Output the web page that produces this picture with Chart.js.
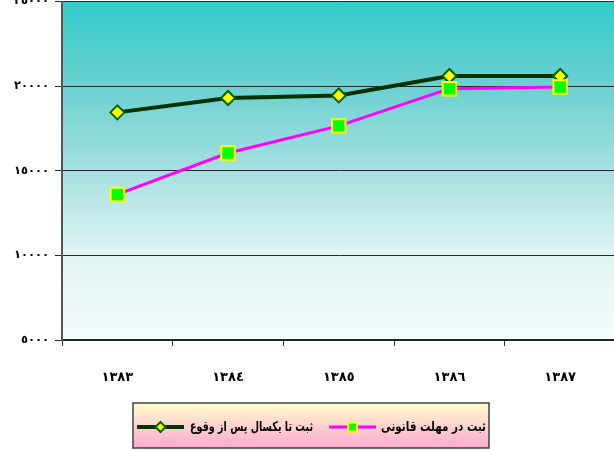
<!DOCTYPE html>
<html>
<head>
<meta charset="utf-8">
<script src="https://cdn.jsdelivr.net/npm/chart.js@4.4.1/dist/chart.umd.min.js"></script>
<style>
html,body{margin:0;padding:0;background:#fff;overflow:hidden;width:614px;height:450px;}
#wrap{position:absolute;left:0;top:-20px;width:640px;height:470px;}
</style>
</head>
<body>
<div id="wrap"><canvas id="c" width="640" height="470"></canvas></div>
<script>
// ---- data ----
const categories = ['١٣٨٣', '١٣٨٤', '١٣٨٥', '١٣٨٦', '١٣٨٧'];
const seriesNames = ['ثبت تا یکسال پس از وقوع', 'ثبت در مهلت قانونی'];
const withinYear = [18450, 19300, 19450, 20600, 20600];
const withinDeadline = [13600, 16050, 17650, 19850, 19950];
const yTickValues = [5000, 10000, 15000, 20000, 25000];
const yTickLabels = ['٥٠٠٠', '١٠٠٠٠', '١٥٠٠٠', '٢٠٠٠٠', '٢٥٠٠٠'];

const FONT = '"DejaVu Sans", sans-serif';
const OFFY = 20; // canvas is shifted up by this amount

const bgPlugin = {
  id: 'plotBg',
  beforeDraw(chart) {
    const a = chart.chartArea, ctx = chart.ctx;
    const g = ctx.createLinearGradient(0, a.top, 0, a.bottom);
    g.addColorStop(0, '#33CCCC');
    g.addColorStop(0.25, '#6CD0D0');
    g.addColorStop(0.5, '#A6E0E0');
    g.addColorStop(0.75, '#E0F4F4');
    g.addColorStop(1, '#F6FCFC');
    ctx.save();
    ctx.fillStyle = g;
    ctx.fillRect(a.left, a.top, a.right - a.left, a.bottom - a.top);
    ctx.restore();
  }
};

function drawSymbol(ctx, ds, cx, cy, x0, x1) {
  ctx.save();
  ctx.strokeStyle = ds.borderColor;
  ctx.lineWidth = ds.borderWidth;
  ctx.beginPath(); ctx.moveTo(x0, cy); ctx.lineTo(x1, cy); ctx.stroke();
  ctx.fillStyle = ds.pointBackgroundColor;
  ctx.strokeStyle = ds.pointBorderColor;
  ctx.lineWidth = ds.pointBorderWidth;
  ctx.beginPath();
  const r = ds.legendRadius;
  if (ds.pointStyle === 'rectRot') {
    ctx.moveTo(cx - r, cy); ctx.lineTo(cx, cy - r); ctx.lineTo(cx + r, cy); ctx.lineTo(cx, cy + r); ctx.closePath();
  } else {
    ctx.rect(cx - r, cy - r, 2 * r, 2 * r);
  }
  ctx.fill(); ctx.stroke();
  ctx.restore();
}

const legendPlugin = {
  id: 'boxLegend',
  afterDraw(chart) {
    const ctx = chart.ctx;
    const bx = 133, by = 403 + OFFY, bw = 356, bh = 45;
    ctx.save();
    const g = ctx.createLinearGradient(0, by, 0, by + bh);
    g.addColorStop(0, '#FFFFCC');
    g.addColorStop(1, '#FFA8D0');
    ctx.fillStyle = g;
    ctx.fillRect(bx, by, bw, bh);
    ctx.strokeStyle = '#404040';
    ctx.lineWidth = 1.5;
    ctx.strokeRect(bx, by, bw, bh);
    const cy = 427 + OFFY;
    const d0 = chart.data.datasets[0], d1 = chart.data.datasets[1];
    drawSymbol(ctx, d0, 160.5, cy, 137, 184);
    drawSymbol(ctx, d1, 352.5, cy, 329, 376);
    ctx.fillStyle = '#000';
    ctx.textBaseline = 'middle';
    ctx.direction = 'rtl';
    ctx.textAlign = 'right';
    ctx.font = 'bold 13.5px ' + FONT;
    const fitText = (t, xr, w) => {
      const m = ctx.measureText(t).width;
      const sx = Math.min(1, w / m);
      ctx.save();
      ctx.translate(xr, cy);
      ctx.scale(sx, 1);
      ctx.fillText(t, 0, 0);
      ctx.restore();
    };
    fitText(seriesNames[0], 313, 123);
    fitText(seriesNames[1], 486, 105);
    ctx.restore();
  }
};

new Chart(document.getElementById('c'), {
  type: 'line',
  data: {
    labels: categories,
    datasets: [
      {
        label: seriesNames[0], data: withinYear,
        borderColor: '#003300', borderWidth: 4,
        pointStyle: 'rectRot', pointRadius: 7, legendRadius: 5,
        pointBackgroundColor: '#FFFF00', pointBorderColor: '#006400', pointBorderWidth: 2,
        tension: 0, order: 1
      },
      {
        label: seriesNames[1], data: withinDeadline,
        borderColor: '#FF00FF', borderWidth: 3,
        pointStyle: 'rect', pointRadius: 9.5, legendRadius: 4.5,
        pointBackgroundColor: '#00FF00', pointBorderColor: '#FFFF00', pointBorderWidth: 2,
        tension: 0, order: 0
      }
    ]
  },
  options: {
    responsive: false,
    animation: false,
    layout: { padding: { top: 21.5, right: 24.5, bottom: 0, left: 0 } },
    plugins: { legend: { display: false }, tooltip: { enabled: false } },
    scales: {
      x: {
        offset: true,
        afterFit(s) { s.height = 110; },
        grid: { drawOnChartArea: false, drawTicks: true, tickLength: 6, offset: true, color: '#333' },
        border: { color: '#222', width: 1.5 },
        ticks: { color: '#000', font: { family: FONT, size: 13, weight: 'bold' }, padding: 24, maxRotation: 0 }
      },
      y: {
        min: 5000, max: 25000,
        afterFit(s) { s.width = 62; },
        afterBuildTicks(s) { s.ticks = yTickValues.map(v => ({ value: v })); },
        grid: { color: '#2a2a2a', lineWidth: 1, tickLength: 7, drawTicks: true },
        border: { color: '#555', width: 2 },
        ticks: {
          color: '#000', padding: 6,
          font: { family: FONT, size: 11.5, weight: 'bold' },
          callback(v) { const i = yTickValues.indexOf(v); return i >= 0 ? yTickLabels[i] : ''; }
        }
      }
    }
  },
  plugins: [bgPlugin, legendPlugin]
});
</script>
</body>
</html>
